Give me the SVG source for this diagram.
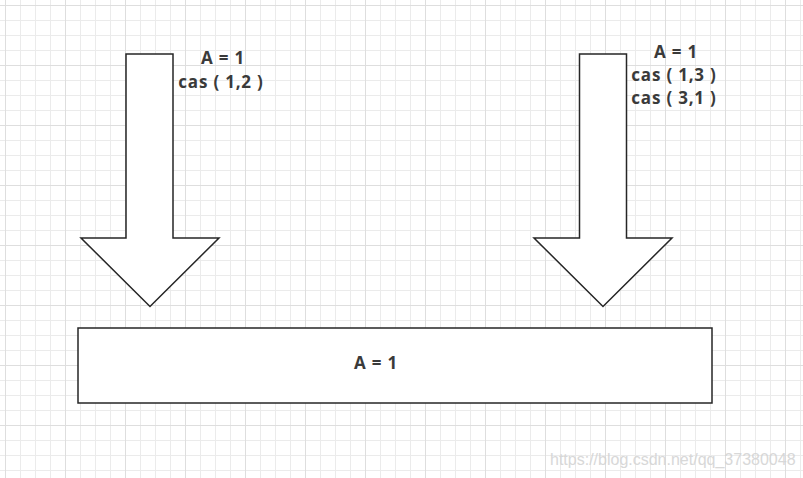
<svg xmlns="http://www.w3.org/2000/svg" width="803" height="478" viewBox="0 0 803 478">
<defs>
<pattern id="grid" x="5" y="5" width="15" height="15" patternUnits="userSpaceOnUse">
<path d="M0 0.5H15M0.5 0V15" fill="none" stroke="#ebebeb" stroke-width="1"/>
</pattern>
<pattern id="major" x="5" y="5" width="60" height="60" patternUnits="userSpaceOnUse">
<path d="M0 0.5H60M0.5 0V60" fill="none" stroke="#dedede" stroke-width="1"/>
</pattern>
</defs>
<style>
.shape{fill:#ffffff;stroke:#262626;stroke-width:1.5;stroke-linejoin:miter}
.lbl{font-family:"Open Sans","Noto Sans CJK SC",sans-serif;font-size:17px;font-weight:bold;fill:#3a3a3a;text-anchor:middle;letter-spacing:0.8px}
.wm{font-family:"Liberation Sans",Arial,sans-serif;font-size:16px;fill:#d4d4d4;opacity:0.9}
</style>
<rect width="803" height="478" fill="#ffffff"/>
<rect width="803" height="478" fill="url(#grid)"/>
<rect width="803" height="478" fill="url(#major)"/>
<g id="arrow-left">
<polygon class="shape" points="126,54 173,54 173,238 219,238 150,306.5 81,238 126,238"/>
<text class="lbl" x="223" y="64">A = 1</text>
<text class="lbl" x="221" y="88">cas ( 1,2 )</text>
</g>
<g id="arrow-right">
<polygon class="shape" points="579.5,54 626.5,54 626.5,238 672,238 603,306.5 534,238 579.5,238"/>
<text class="lbl" x="676" y="58">A = 1</text>
<text class="lbl" x="674" y="81">cas ( 1,3 )</text>
<text class="lbl" x="674" y="104">cas ( 3,1 )</text>
</g>
<g id="memory">
<rect class="shape" x="78" y="328" width="634" height="75"/>
<text class="lbl" x="376" y="369">A = 1</text>
</g>
<g id="connectors"></g>
<text class="wm" x="550" y="465">https://blog.csdn.net/qq_37380048</text>
</svg>
